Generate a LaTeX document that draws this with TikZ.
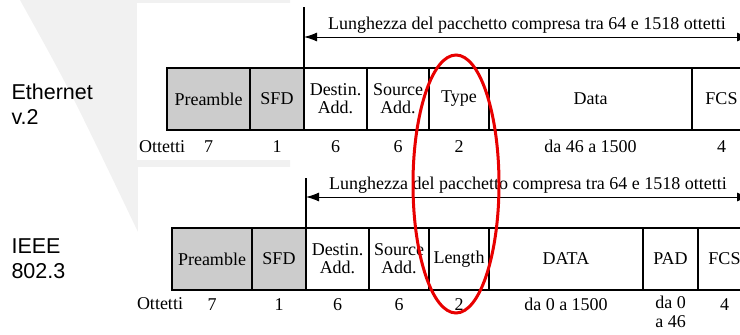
\documentclass[tikz,border=0pt]{standalone}
\usepackage{fontspec}
\setmainfont{Liberation Serif}
\newfontfamily\framefont{Liberation Sans}
\definecolor{fieldgrey}{HTML}{CCCCCC}
\definecolor{wmark}{HTML}{F1F1F1}
\definecolor{ringred}{HTML}{E80000}
\usetikzlibrary{arrows.meta,positioning}
\tikzset{
  >={Latex[length=13pt,width=9pt]},
  field/.style={draw,line width=1.2pt,minimum height=62pt,inner sep=0pt,outer sep=0pt,align=center,font=\fontsize{18}{18}\selectfont},
  gfield/.style={field,fill=fieldgrey},
  num/.style={anchor=base,align=center,font=\fontsize{18}{19}\selectfont},
  frame/.style={anchor=west,align=left,font=\framefont\fontsize{21.5}{25}\selectfont},
  span/.style={<->,line width=1pt},
  tick/.style={line width=1.5pt},
  ring/.style={draw=ringred,line width=3pt},
}
\begin{document}
\begin{tikzpicture}[x=1pt,y=-1pt]
\useasboundingbox (0,0) rectangle (740,335);
% watermark
\fill[wmark] (20,0) .. controls (70,90) .. (138,232) -- (290,170) -- (290,0) -- cycle;
\fill[white] (137,3) rectangle (745,160);
\fill[white] (138,167) rectangle (745,340);

% Ethernet v.2
\node[frame] (eth) at (8,104) {Ethernet\\v.2};
\node[gfield,minimum width=83pt,anchor=north west] (pre1) at (167,68) {Preamble};
\node[gfield,minimum width=54pt,right=0pt of pre1] (sfd1) {SFD};
\node[field,minimum width=63pt,right=0pt of sfd1] (dst1) {Destin.\\Add.};
\node[field,minimum width=62pt,right=0pt of dst1] (src1) {Source\\Add.};
\node[field,minimum width=60pt,right=0pt of src1] (typ1) {Type};
\node[field,minimum width=203pt,right=0pt of typ1] (dat1) {Data};
\node[field,minimum width=59pt,right=0pt of dat1] (fcs1) {FCS};
\coordinate (top1) at ([yshift=61pt]dst1.north west);
\draw[tick] (top1) -- (dst1.north west) -- (dst1.south west);
\coordinate (l1) at ([yshift=31pt]dst1.north west);
\coordinate (r1) at (750,37);
\draw[span] (l1) -- (r1) node[midway,anchor=base,yshift=8pt,font=\fontsize{18}{19}\selectfont] (len1) {Lunghezza del pacchetto compresa tra 64 e 1518 ottetti};
\node[num] (ott1) at (162,152) {Ottetti};
\foreach \f/\n in {pre1/7,sfd1/1,dst1/6,src1/6,typ1/2,dat1/da 46 a 1500,fcs1/4}
  \node[num] (o-\f) at ([yshift=-22pt]\f.south) {\n};

% IEEE 802.3
\node[frame] (ieee) at (8,259) {IEEE\\802.3};
\node[gfield,minimum width=80pt,anchor=north west] (pre2) at (172,228) {Preamble};
\node[gfield,minimum width=54pt,right=0pt of pre2] (sfd2) {SFD};
\node[field,minimum width=63pt,right=0pt of sfd2] (dst2) {Destin.\\Add.};
\node[field,minimum width=60pt,right=0pt of dst2] (src2) {Source\\Add.};
\node[field,minimum width=60pt,right=0pt of src2] (len2) {Length};
\node[field,minimum width=154pt,right=0pt of len2] (dat2) {DATA};
\node[field,minimum width=55pt,right=0pt of dat2] (pad2) {PAD};
\node[field,minimum width=53pt,right=0pt of pad2] (fcs2) {FCS};
\coordinate (top2) at ([yshift=50pt]dst2.north west);
\draw[tick] (top2) -- (dst2.north west);
\coordinate (l2) at ([yshift=31pt]dst2.north west);
\coordinate (r2) at (750,197);
\draw[span] (l2) -- (r2) node[midway,anchor=base,yshift=8pt,font=\fontsize{18}{19}\selectfont] (lenl2) {Lunghezza del pacchetto compresa tra 64 e 1518 ottetti};
\node[num] (ott2) at (160,309) {Ottetti};
\foreach \f/\n in {pre2/7,sfd2/1,dst2/6,src2/6,len2/2,dat2/da 0 a 1500,fcs2/4}
  \node[num] (o-\f) at ([yshift=-20pt]\f.south) {\n};
\node[num,anchor=north,inner sep=0pt] (o-pad2) at ([yshift=-6pt]pad2.south) {da 0\\a 46};

% highlight
\draw[ring] (456,184) ellipse [x radius=43pt,y radius=129pt];
\end{tikzpicture}
\end{document}
